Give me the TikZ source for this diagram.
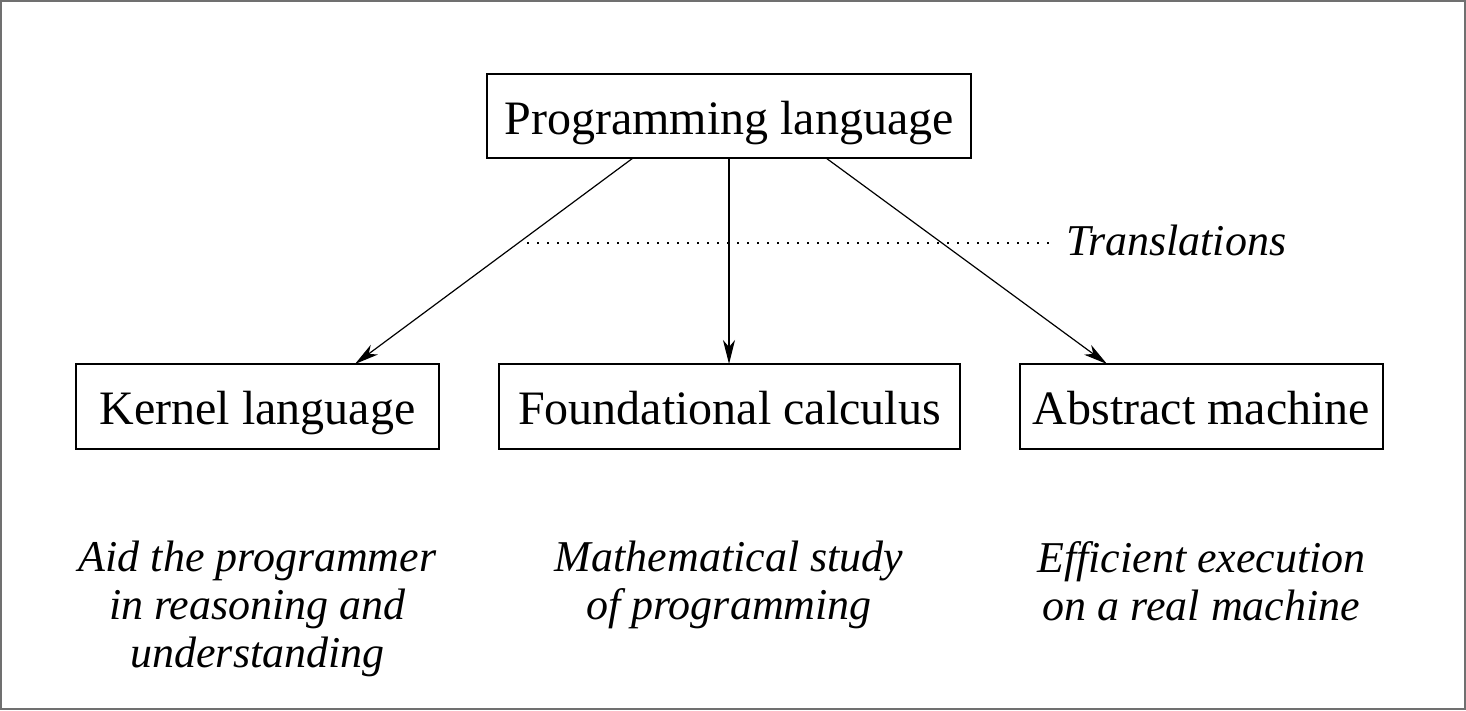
\documentclass[tikz,border=0pt]{standalone}
\usepackage{fontspec}
\setmainfont{Liberation Serif}
\usetikzlibrary{arrows.meta}
\definecolor{framegray}{HTML}{707070}
\begin{document}
\begin{tikzpicture}[x=1pt,y=-1pt,
  box/.style={draw,line width=1.2pt,inner sep=0pt,text height=40pt,text depth=4pt,
    font=\fontsize{48}{56}\selectfont},
  note/.style={font=\itshape\fontsize{44}{48}\selectfont,align=center,anchor=north,inner sep=0pt},
  conn/.style={line width=1.2pt,-{Stealth[length=24pt,width=12pt,inset=7pt]}}]
\useasboundingbox (0,0) rectangle (1466,710);
\draw[framegray,line width=2.2pt] (1.1,1.1) rectangle (1464.9,708.9);
\node[box,minimum width=484pt,minimum height=84pt] (pl) at (729,116) {Programming language};
\node[box,minimum width=363pt,minimum height=85pt] (kl) at (257.5,406.5) {Kernel language};
\node[box,minimum width=461pt,minimum height=85pt] (fc) at (729.5,406.5) {Foundational calculus};
\node[box,minimum width=363pt,minimum height=85pt] (am) at (1201.5,406.5) {Abstract machine};
\coordinate (k1) at (633,158);
\coordinate (k2) at (355,364);
\coordinate (f1) at (729,158);
\coordinate (f2) at (729,364);
\coordinate (a1) at (826,158);
\coordinate (a2) at (1107,364);
\draw[conn] (k1) -- (k2);
\draw[conn] (f1) -- (f2);
\draw[conn] (a1) -- (a2);
\coordinate (d1) at (527,243);
\coordinate (d2) at (1054,243);
\draw[line width=1.2pt,dash pattern=on 2pt off 8pt] (d1) -- (d2);
\node[note,anchor=base west] (tr) at (1066,255) {Translations};
\node[note] (n1) at (257.5,541) {Aid the programmer\\in reasoning and\\understanding};
\node[note] (n2) at (729,541) {Mathematical study\\of programming};
\node[note] (n3) at (1201.5,541) {Efficient execution\\on a real machine};
\end{tikzpicture}
\end{document}
